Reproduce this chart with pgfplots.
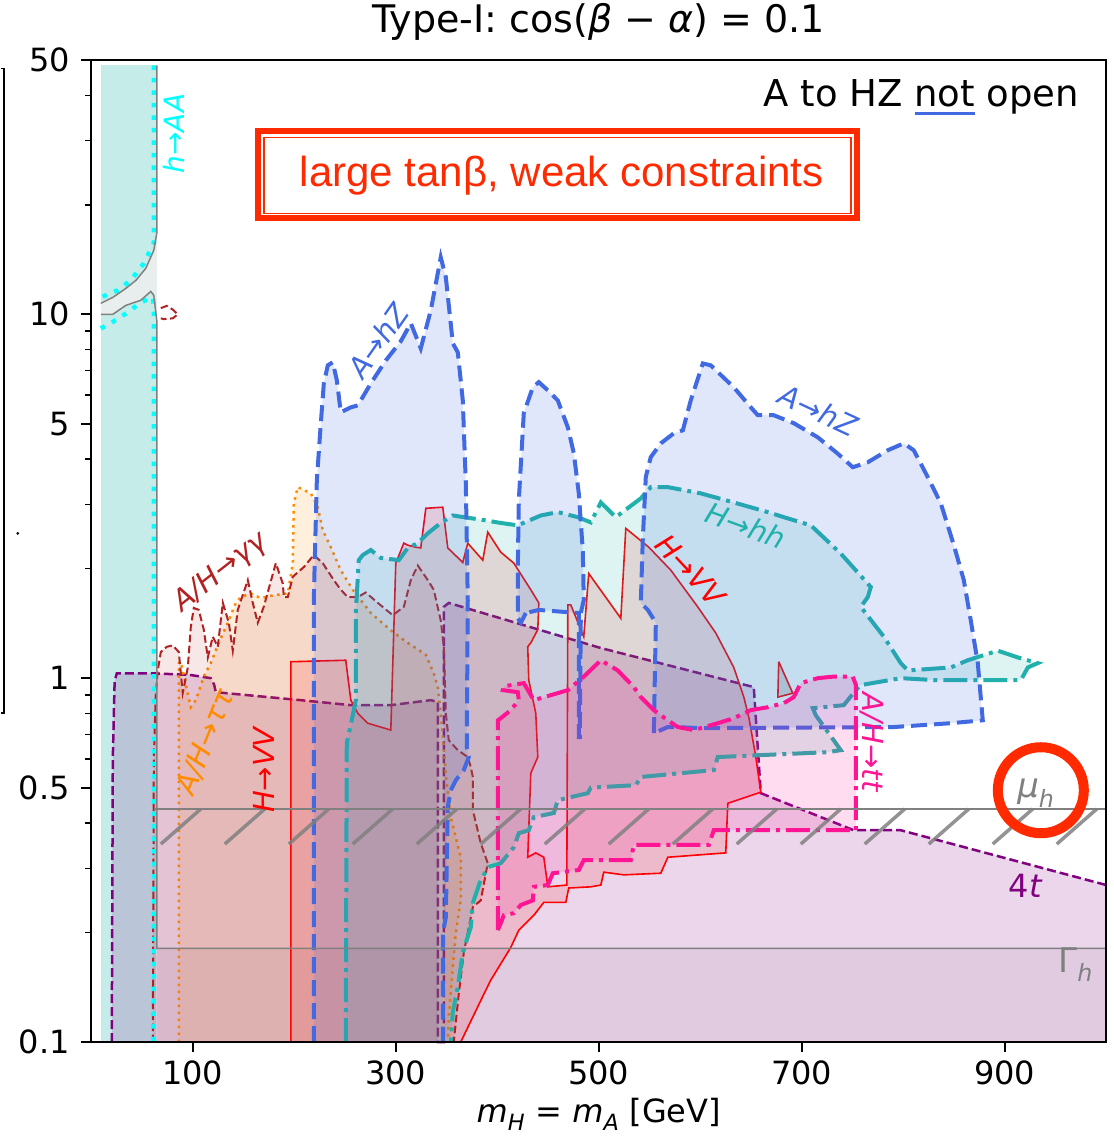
\documentclass[border=0pt]{standalone}
\usepackage{pgfplots}
\pgfplotsset{compat=1.18}
\usepackage{fontspec}
\setmainfont{DejaVu Sans}
\newfontfamily\lib{Liberation Sans}
\newcommand\fs[1]{\fontsize{#1}{#1}\selectfont}
\definecolor{royalblue}{RGB}{65,105,225}
\definecolor{lsg}{RGB}{32,178,170}
\definecolor{deeppink}{RGB}{255,20,147}
\definecolor{darkorange}{RGB}{255,140,0}
\definecolor{firebrick}{RGB}{178,34,34}
\definecolor{mplpurple}{RGB}{128,0,128}
\definecolor{mplgray}{RGB}{128,128,128}
\definecolor{mplcyan}{RGB}{0,255,255}
\definecolor{haa}{RGB}{198,236,234}
\definecolor{gapc}{RGB}{232,238,238}
\definecolor{redbox}{RGB}{255,42,0}
\definecolor{mplred}{RGB}{255,0,0}
\newcommand\bluenot{\setbox0\hbox{not}\rlap{\color{royalblue}\vrule width\wd0 height -5pt depth 8pt}not}
\begin{document}
\begin{tikzpicture}
\begin{axis}[
 scale only axis, width=1015pt, height=982pt,
 xmin=0, xmax=1000, ymin=0.1, ymax=50, ymode=log,
 xtick={100,300,500,700,900}, xticklabels={100,300,500,700,900},
 ytick={0.1,0.5,1,5,10,50}, yticklabels={0.1,0.5,1,5,10,50},
 minor ytick={0.2,0.3,0.4,0.6,0.7,0.8,0.9,2,3,4,6,7,8,9,20,30,40},
 tick align=outside, major tick length=10pt, minor tick length=6pt,
 tick pos=left,
 every major tick/.style={line width=2pt, black},
 every minor tick/.style={line width=1.5pt, black},
 axis line style={line width=2pt},
 tick label style={font=\fs{32}},
 xticklabel style={yshift=-5pt},
 yticklabel style={xshift=-8pt},
 /pgf/number format/assume math mode=true,
 xlabel={\textit{m}\textsubscript{\textit{H}} = \textit{m}\textsubscript{\textit{A}} [GeV]},
 xlabel style={font=\fs{32}, at={(rel axis cs:0.5,0)}, anchor=north, yshift=-56pt, inner sep=0pt},
 title={Type-I: cos(\textit{β} − \textit{α}) = 0.1},
 title style={font=\fs{38}, at={(rel axis cs:0.5,1)}, anchor=south, yshift=13pt, inner sep=0pt},
 axis on top, clip=false, no markers,
 unbounded coords=jump,
]
% h -> AA region
\addplot[draw=none, fill=haa] coordinates {(9.4,0.1) (9.4,48.3) (63.5,48.3) (63.5,0.1)};
\addplot[draw=none, fill=gapc] coordinates {(64.5,16.69) (61.6,15.0) (53.7,13.38) (44.0,12.40) (34.0,11.78) (21.2,11.13) (9.4,10.72) (9.4,10.0) (21.2,10.0) (34.0,10.58) (48.8,10.93) (58.6,11.56) (61.6,11.28) (64.5,9.63)};
% Gamma_h excluded
\addplot[draw=none, fill=mplgray, fill opacity=0.1] coordinates {(64.5,0.1) (64.5,0.181) (1000,0.181) (1000,0.1)};
% 4t
\addplot[draw=none, fill=mplpurple, fill opacity=0.16] coordinates {(20.2,0.1) (21.2,0.6) (23.0,0.98) (25.1,1.03) (65.5,1.03) (98.0,1.02) (117.7,1.0) (121.0,0.96) (122.7,0.915) (206.4,0.870) (255.7,0.843) (295.1,0.843) (334.5,0.870) (341.4,0.860) (341.4,0.1) (347.3,0.1) (347.3,1.57) (352.2,1.61) (502.0,1.21) (652.7,0.945) (659.6,0.483) (751.2,0.382) (797.5,0.382) (1000,0.27) (1000,0.1)};
\addplot[mplpurple, line width=2.5pt, dash pattern=on 9pt off 4pt] coordinates {(20.2,0.1) (21.2,0.6) (23.0,0.98) (25.1,1.03) (65.5,1.03) (98.0,1.02) (117.7,1.0) (121.0,0.96) (122.7,0.915) (206.4,0.870) (255.7,0.843) (295.1,0.843) (334.5,0.870) (341.4,0.860) (341.4,0.1) (347.3,0.1) (347.3,1.57) (352.2,1.61) (502.0,1.21) (652.7,0.945) (659.6,0.483) (751.2,0.382) (797.5,0.382) (1000,0.27)};
% A/H -> tautau
\addplot[darkorange, line width=2.5pt, dash pattern=on 2.5pt off 4.5pt, fill=darkorange, fill opacity=0.13] coordinates {(86.2,0.1) (86.2,1.10) (88.2,1.11) (98.0,0.832) (103.0,0.870) (110.8,1.01) (117.7,1.10) (125.6,1.25) (134.5,1.42) (142.4,1.61) (147.3,1.67) (157.1,1.71) (167.0,1.66) (179.8,1.69) (193.6,1.71) (198.5,2.07) (199.5,3.02) (203.4,3.35) (216.3,3.22) (223.2,2.95) (228.1,2.55) (236.0,2.29) (245.8,1.98) (257.6,1.75) (275.4,1.51) (297.0,1.34) (311.8,1.25) (329.6,1.16) (337.4,1.03) (341.4,0.945) (344.3,0.801) (347.3,0.646) (349.3,0.541) (354.2,0.415) (364.0,0.322) (364.0,0.245) (359.1,0.199) (356.2,0.161) (352.2,0.117) (351.2,0.1)};
% A/H -> gamma gamma
\addplot[firebrick, line width=2pt, dash pattern=on 7.5pt off 3.5pt, fill=firebrick, fill opacity=0.11] coordinates {(60.6,0.1) (61.6,0.6) (63.5,0.9) (65.5,1.05) (68.5,1.18) (74.4,1.22) (80.3,1.23) (86.2,1.18) (90.1,0.91) (95.1,1.07) (98.0,1.38) (101.0,1.56) (105.9,1.54) (110.8,1.36) (114.8,1.14) (119.7,1.30) (124.6,1.22) (129.6,1.61) (135.5,1.42) (139.4,1.19) (144.3,1.54) (154.2,1.86) (159.1,1.61) (164.0,1.42) (169.9,1.57) (181.8,2.07) (188.7,1.82) (189.7,1.67) (193.6,1.67) (198.5,1.90) (209.4,2.02) (219.2,2.18) (228.1,2.07) (238.9,1.86) (245.8,1.75) (252.7,1.67) (262.6,1.67) (270.4,1.72) (282.3,1.61) (297.0,1.49) (307.9,1.57) (314.8,1.86) (321.7,2.04) (331.5,1.86) (337.4,1.75) (344.3,1.44) (347.3,1.22) (349.3,0.801) (352.2,0.675) (361.1,0.634) (370.9,0.607) (373.9,0.570) (375.9,0.535) (375.9,0.434) (383.7,0.352) (390.6,0.310) (383.7,0.245) (375.9,0.235) (367.0,0.176) (362.1,0.136) (357.1,0.1)};
\addplot[firebrick, line width=2pt, dash pattern=on 7.5pt off 3.5pt] coordinates {(68.5,10.4) (74.4,10.55) (80.3,10.3) (85.2,10.0) (80.3,9.75) (71.4,9.7) (68.5,9.75)};
% H -> VV
\addplot[mplred, line width=1.6pt, fill=mplred, fill opacity=0.13] coordinates {(196.6,0.1) (196.6,1.11) (199.5,1.11) (250.7,1.12) (255.7,0.870) (262.6,0.801) (272.4,0.752) (295.1,0.720) (300.0,2.07) (307.9,2.35) (311.8,2.32) (319.7,2.29) (324.6,2.28) (329.6,2.93) (346.3,2.95) (351.2,2.28) (366.0,2.08) (370.9,2.35) (385.7,2.11) (390.6,2.52) (403.4,2.22) (416.3,2.07) (433.0,1.75) (440.9,1.61) (439.9,1.36) (433.0,1.25) (430.0,1.22) (431.0,0.988) (437.9,0.801) (439.9,0.607) (433.0,0.548) (430.0,0.322) (437.9,0.331) (445.8,0.322) (449.8,0.267) (468.5,0.270) (469.5,1.59) (472.4,1.59) (485.2,1.30) (490.1,1.94) (521.7,1.46) (526.6,2.58) (549.3,2.29) (571.0,1.98) (597.5,1.57) (615.3,1.33) (633.0,1.07) (642.9,0.887) (647.8,0.781) (654.7,0.607) (659.6,0.486) (627.1,0.453) (625.1,0.331) (568.0,0.322) (561.1,0.291) (524.6,0.288) (504.9,0.293) (502.0,0.270) (492.1,0.267) (470.4,0.265) (467.5,0.242) (445.8,0.242) (436.0,0.223) (421.2,0.203) (413.3,0.182) (393.6,0.148) (383.7,0.130) (364.0,0.1)};
\addplot[mplred, line width=1.6pt, fill=mplgray, fill opacity=0.3] coordinates {(677.3,1.11) (676.4,0.887) (691.1,0.909) (677.3,1.11)};
% H -> hh
\addplot[lsg, line width=4pt, dash pattern=on 24pt off 6pt on 4pt off 6pt, fill=lsg, fill opacity=0.15] coordinates {(250.7,0.1) (251.7,0.663) (256.6,0.766) (260.6,0.870) (260.6,1.51) (263.5,2.11) (267.5,2.18) (275.4,2.25) (285.2,2.14) (303.0,2.11) (311.8,2.28) (321.7,2.35) (331.5,2.50) (344.3,2.67) (356.2,2.80) (367.0,2.77) (386.7,2.72) (403.4,2.67) (420.2,2.63) (442.9,2.80) (459.6,2.86) (479.3,2.77) (492.1,2.68) (502.0,3.04) (516.7,2.77) (541.4,3.12) (551.2,3.35) (568.0,3.35) (600.5,3.22) (633.0,3.04) (666.5,2.86) (682.3,2.77) (708.9,2.63) (738.4,2.20) (768.0,1.78) (765.0,1.67) (758.1,1.57) (780.8,1.30) (797.5,1.10) (804.4,1.05) (846.8,1.07) (863.5,1.12) (893.1,1.19) (912.8,1.14) (932.5,1.10) (922.7,1.07) (915.8,0.988) (830.0,0.988) (797.5,1.0) (758.1,0.957) (753.2,0.927) (741.4,0.843) (710.8,0.827) (713.8,0.791) (738.4,0.634) (725.1,0.626) (617.2,0.607) (613.3,0.559) (541.4,0.535) (536.5,0.508) (492.1,0.500) (489.2,0.483) (459.6,0.462) (455.7,0.426) (436.0,0.415) (431.0,0.382) (421.2,0.375) (416.3,0.343) (403.4,0.310) (391.6,0.303) (383.7,0.279) (375.9,0.241) (373.9,0.207) (366.0,0.176) (361.1,0.142) (356.2,0.121) (354.2,0.1)};
% A -> hZ
\addplot[royalblue, line width=4pt, dash pattern=on 16pt off 7pt, fill=royalblue, fill opacity=0.16] coordinates {(219.2,0.1) (219.2,1.64) (222.2,3.50) (226.1,5.0) (229.1,6.46) (233.0,7.24) (237.9,7.38) (241.9,6.59) (245.8,5.38) (255.7,5.55) (262.6,5.62) (275.4,6.46) (290.2,7.47) (304.9,8.43) (314.8,9.45) (324.6,8.06) (334.5,10.26) (344.3,14.34) (349.3,12.64) (356.2,8.32) (361.1,7.86) (366.0,5.80) (369.0,3.43) (370.9,1.64) (369.9,0.646) (371.9,0.607) (367.0,0.559) (359.1,0.524) (354.2,0.492) (351.2,0.442) (349.3,0.220) (346.3,0.199) (346.3,0.1)};
\addplot[royalblue, line width=4pt, dash pattern=on 16pt off 7pt, fill=royalblue, fill opacity=0.16] coordinates {(428.1,1.51) (423.2,1.42) (420.2,1.46) (420.2,2.0) (421.2,3.08) (426.1,5.35) (435.0,6.30) (440.9,6.51) (449.8,6.18) (459.6,5.80) (469.5,4.89) (475.4,4.15) (480.3,3.22) (484.2,2.25) (485.2,1.64) (482.3,1.51) (481.3,0.689) (480.3,0.689) (480.3,1.51) (440.9,1.54) (428.1,1.51)};
\addplot[royalblue, line width=4pt, dash pattern=on 16pt off 7pt, fill=royalblue, fill opacity=0.16] coordinates {(554.2,0.706) (556.2,1.42) (548.3,1.54) (541.4,1.61) (543.3,2.39) (546.3,3.57) (551.2,4.05) (561.1,4.42) (573.9,4.71) (582.8,4.80) (590.6,5.80) (602.5,7.33) (610.3,7.24) (633.0,6.30) (649.8,5.55) (656.7,5.28) (672.4,5.28) (692.1,5.02) (715.8,4.59) (735.0,4.15) (750.2,3.80) (765.0,3.92) (784.7,4.23) (800.5,4.42) (810.3,4.23) (824.1,3.57) (837.0,3.02) (849.8,2.32) (859.6,1.86) (866.5,1.44) (873.4,1.10) (878.3,0.766) (846.8,0.752) (790.6,0.734) (600.5,0.729) (573.9,0.734) (568.0,0.734) (554.2,0.706)};
% A/H -> tt
\addplot[deeppink, line width=4pt, dash pattern=on 24pt off 6pt on 4pt off 6pt, fill=deeppink, fill opacity=0.15] coordinates {(400.5,0.203) (400.5,0.766) (403.4,0.776) (413.3,0.817) (421.2,0.870) (420.2,0.915) (405.4,0.927) (406.4,0.95) (426.1,0.969) (436.0,0.870) (469.5,0.927) (485.2,1.01) (502.0,1.12) (518.7,1.05) (534.5,0.945) (541.4,0.887) (554.2,0.817) (568.0,0.766) (577.8,0.734) (593.6,0.720) (617.2,0.752) (633.0,0.776) (649.8,0.817) (666.5,0.832) (682.3,0.854) (692.1,0.887) (699.0,0.969) (715.8,1.0) (731.5,1.01) (750.2,1.01) (753.2,0.96) (753.2,0.382) (613.3,0.382) (608.4,0.348) (534.5,0.348) (531.5,0.316) (485.2,0.316) (480.3,0.297) (454.7,0.291) (449.8,0.270) (436.0,0.267) (435.0,0.245) (423.2,0.238) (416.3,0.226) (406.4,0.223) (403.4,0.212) (400.5,0.203)};
% h -> AA boundary
\addplot[mplcyan, line width=4.5pt, dash pattern=on 4.5pt off 8pt] coordinates {(61.6,48.3) (61.6,15.67) (51.7,13.80) (38.9,12.40) (26.1,11.64) (9.4,11.13)};
\addplot[mplcyan, line width=4.5pt, dash pattern=on 4.5pt off 8pt] coordinates {(9.4,9.15) (19.2,9.45) (36.0,10.13) (48.8,10.79) (60.6,11.13) (61.6,10.5) (61.6,0.1)};
% mu_h and Gamma_h
\addplot[mplgray, line width=1.5pt] coordinates {(64.5,48.3) (64.5,16.69) (61.6,15.0) (53.7,13.38) (44.0,12.40) (34.0,11.78) (21.2,11.13) (9.4,10.72)};
\addplot[mplgray, line width=1.5pt] coordinates {(9.4,10.0) (21.2,10.0) (34.0,10.58) (48.8,10.93) (58.6,11.56) (61.6,11.28) (64.5,9.63) (64.5,0.181) (1000,0.181)};
\addplot[mplgray, line width=1.5pt] coordinates {(61.6,0.437) (1000,0.437)};
\addplot[mplgray, line width=3.5pt, opacity=0.85] coordinates {
(68.5,0.35) (107.9,0.437) (100,nan)
(131.5,0.35) (170.9,0.437) (150,nan)
(194.6,0.35) (234.0,0.437) (200,nan)
(257.6,0.35) (297.0,0.437) (250,nan)
(320.7,0.35) (360.1,0.437) (350,nan)
(383.7,0.35) (423.1,0.437) (400,nan)
(446.8,0.35) (486.2,0.437) (450,nan)
(509.8,0.35) (549.2,0.437) (500,nan)
(572.9,0.35) (612.3,0.437) (600,nan)
(635.9,0.35) (675.3,0.437) (650,nan)
(699.0,0.35) (738.4,0.437) (700,nan)
(762.0,0.35) (801.4,0.437) (800,nan)
(825.1,0.35) (864.5,0.437) (850,nan)
(888.1,0.35) (927.5,0.437) (900,nan)
(951.2,0.35) (990.6,0.437)};
% labels
\node[rotate=90, text=mplcyan, font=\fs{28}\itshape] at (axis cs:81.3,31.4) {h→AA};
\node[rotate=55, text=royalblue, font=\fs{29}\itshape] at (axis cs:282.3,8.48) {A→hZ};
\node[rotate=-25, text=royalblue, font=\fs{29}\itshape] at (axis cs:716.7,5.45) {A→hZ};
\node[rotate=-20, text=lsg, font=\fs{29}\itshape] at (axis cs:644.8,2.63) {H→hh};
\node[rotate=-47, text=mplred, font=\fs{29}\itshape] at (axis cs:590.6,1.98) {H→VV};
\node[rotate=90, text=mplred, font=\fs{29}\itshape] at (axis cs:169.9,0.559) {H→VV};
\node[rotate=38, text=firebrick, font=\fs{29}\itshape] at (axis cs:127.6,1.95) {A/H→γγ};
\node[rotate=68, text=darkorange, font=\fs{29}\itshape] at (axis cs:112.8,0.667) {A/H→ττ};
\node[rotate=-90, text=deeppink, font=\fs{29}\itshape] at (axis cs:769.0,0.667) {A/H→tt};
\node[text=mplpurple, font=\fs{32}] at (axis cs:920.6,0.268) {4\textit{t}};
\node[text=mplgray, font=\fs{34}] at (axis cs:930.6,0.483) {\textit{μ}\textsubscript{\textit{h}}};
\node[text=mplgray, font=\fs{34}] at (axis cs:969.9,0.163) {Γ\textsubscript{\textit{h}}};
\node[anchor=east, font=\fs{37}] at (axis cs:976.8,39.5) {A to HZ \bluenot\ open};
% red box and circle
\draw[redbox, line width=6pt] (axis cs:164.0,32.0) rectangle (axis cs:754.2,18.35);
\draw[redbox, line width=1.5pt] ([xshift=6pt,yshift=-7pt]axis cs:164.0,32.0) rectangle ([xshift=-6pt,yshift=5pt]axis cs:754.2,18.35);
\node[text=redbox, font=\lib\fs{42}] at (axis cs:463.5,24.1) {large tanβ, weak constraints};
\draw[redbox, line width=10pt] (axis cs:935.5,0.492) circle[radius=43pt];
% fragment of neighbouring panel
\draw[black, line width=1.5pt] (axis cs:-89.2,47.4) -- (axis cs:-86.2,47.4) -- (axis cs:-86.2,0.801) -- (axis cs:-89.2,0.801);
\fill (axis cs:-72.4,2.50) circle[radius=1.5pt];
\path (axis cs:1007,1);
\path ([yshift=60pt]rel axis cs:0.5,1);
\path ([yshift=-97pt]rel axis cs:0.5,0);
\end{axis}
\end{tikzpicture}
\end{document}
